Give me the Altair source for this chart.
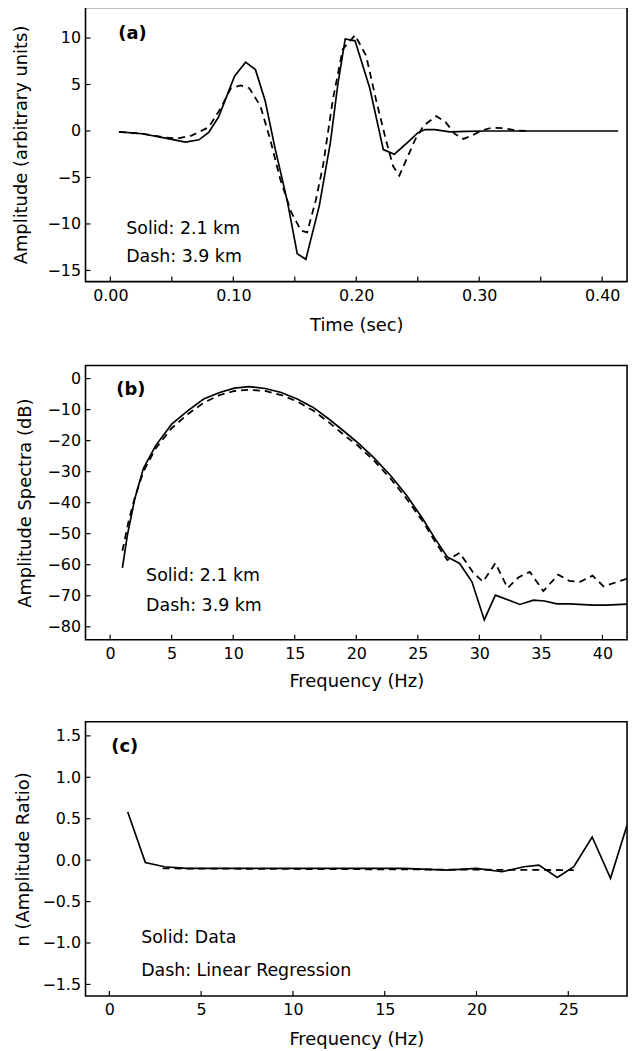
import altair as alt
import pandas as pd

FONT = "DejaVu Sans"

# ---------------- Panel (a): waveforms ----------------
a_solid_t = [0.007, 0.026, 0.048, 0.061, 0.072, 0.080, 0.088, 0.101, 0.110, 0.118,
             0.126, 0.134, 0.144, 0.152, 0.159, 0.170, 0.179, 0.185, 0.191, 0.199,
             0.211, 0.222, 0.231, 0.242, 0.250, 0.256, 0.264, 0.276, 0.290, 0.305,
             0.330, 0.360, 0.390, 0.413]
a_solid_amp = [-0.1, -0.3, -0.85, -1.2, -0.95, -0.15, 1.5, 5.9, 7.4, 6.6,
               3.2, -1.9, -7.6, -13.2, -13.8, -8.0, -1.2, 5.0, 9.9, 9.7,
               4.6, -2.0, -2.5, -1.2, -0.2, 0.15, 0.15, -0.1, -0.05, 0.0,
               0.0, 0.0, 0.0, 0.0]
a_dash_t = [0.007, 0.026, 0.045, 0.055, 0.066, 0.080, 0.090, 0.098, 0.106, 0.113,
            0.122, 0.130, 0.138, 0.147, 0.155, 0.160, 0.167, 0.173, 0.181, 0.189,
            0.199, 0.208, 0.216, 0.224, 0.230, 0.235, 0.241, 0.248, 0.255, 0.265,
            0.273, 0.280, 0.287, 0.294, 0.301, 0.310, 0.320, 0.330, 0.340]
a_dash_amp = [-0.1, -0.3, -0.7, -0.8, -0.5, 0.4, 2.5, 4.6, 4.9, 4.6,
              2.7, -0.9, -5.1, -8.7, -10.7, -10.9, -7.5, -3.7, 3.4, 8.8,
              10.3, 8.1, 3.4, -0.9, -3.8, -4.8, -3.0, -0.9, 0.6, 1.6,
              0.9, -0.3, -0.85, -0.5, 0.0, 0.35, 0.3, 0.05, 0.0]
a_x_labels = [0.0, 0.1, 0.2, 0.3, 0.4]
a_x_ticks = [0.0, 0.05, 0.1, 0.15, 0.2, 0.25, 0.3, 0.35, 0.4]
a_y_labels = [-15, -10, -5, 0, 5, 10]

# ---------------- Panel (b): amplitude spectra ----------------
b_solid_f = [1.0, 1.4, 2.0, 2.7, 3.7, 5.0, 6.3, 7.6, 8.9, 10.1, 11.3, 12.6, 13.9,
             15.2, 16.5, 17.8, 19.1, 20.1, 21.4, 22.8, 24.1, 25.4, 26.4, 27.4,
             28.4, 29.4, 30.4, 31.3, 33.3, 34.4, 35.3, 36.3, 37.3, 39.3, 40.3, 42.0]
b_solid_db = [-61, -50.5, -38.8, -29, -21.6, -14.7, -10.4, -6.6, -4.5, -3.1, -2.6,
              -3.2, -4.5, -6.6, -9.3, -13.1, -17.3, -20.6, -25.4, -31.3, -37.7,
              -45.2, -51.6, -57.5, -59.6, -65.5, -77.8, -69.8, -72.8, -71.4, -71.7,
              -72.6, -72.6, -73.0, -73.0, -72.7]
b_dash_f = [1.0, 1.5, 2.0, 2.7, 3.7, 5.0, 6.3, 7.6, 8.9, 10.1, 11.3, 12.6, 13.9,
            15.2, 16.5, 17.8, 19.1, 20.1, 21.4, 22.8, 24.1, 25.4, 26.4, 27.4,
            28.4, 29.5, 30.3, 31.3, 32.3, 33.2, 34.1, 35.2, 36.4, 37.3, 38.2,
            39.2, 40.1, 42.0]
b_dash_db = [-55.5, -46, -38.5, -30, -22.5, -16, -11.5, -7.8, -5.3, -4.0, -3.6,
             -4.0, -5.3, -7.4, -10.3, -14.2, -18.5, -21.5, -26.3, -32.3, -38.8,
             -46, -52.5, -58.5, -56.2, -62.5, -65.5, -59.5, -67.5, -64, -62.3,
             -68.5, -63.2, -65.2, -65.5, -63.5, -67, -64.5]
b_x_labels = [0, 5, 10, 15, 20, 25, 30, 35, 40]
b_y_labels = [-80, -70, -60, -50, -40, -30, -20, -10, 0]

# ---------------- Panel (c): amplitude ratio ----------------
c_solid_f = [1.0, 1.96, 3.0, 4.2, 7.3, 12.0, 16.0, 18.4, 20.0, 21.4, 22.6, 23.4,
             24.4, 25.3, 26.3, 27.3, 28.2]
c_solid_n = [0.58, -0.03, -0.08, -0.1, -0.1, -0.1, -0.1, -0.12, -0.1, -0.14,
             -0.08, -0.06, -0.21, -0.08, 0.28, -0.22, 0.42]
c_dash_f = [2.9, 25.3]
c_dash_n = [-0.1, -0.12]
c_x_labels = [0, 5, 10, 15, 20, 25]
c_y_labels = [-1.5, -1.0, -0.5, 0.0, 0.5, 1.0, 1.5]

W, H = 545, 276


def panel(sx, sy, dx, dy, xdom, ydom, xlabels, xticks, ylabels, xfmt, yfmt,
          xtitle, ytitle, title_x, title_y, letter, letter_pos, notes, note_pos):
    xs = alt.Scale(domain=xdom, nice=False, zero=False)
    ys = alt.Scale(domain=ydom, nice=False, zero=False)
    xax = alt.Axis(values=xlabels, format=xfmt, title=xtitle, ticks=False,
                   domain=False, grid=False, labelPadding=6, titleY=title_y,
                   titleBaseline="middle", labelFlush=False)
    yax = alt.Axis(values=ylabels, format=yfmt, title=ytitle, ticks=False,
                   domain=False, grid=False, labelPadding=5, titleX=title_x,
                   titleBaseline="middle")
    solid = alt.Chart(pd.DataFrame({"x": sx, "y": sy})).mark_line(
        color="black", strokeWidth=1.7, clip=True).encode(
        x=alt.X("x:Q", scale=xs, axis=xax), y=alt.Y("y:Q", scale=ys, axis=yax))
    dash = alt.Chart(pd.DataFrame({"x": dx, "y": dy})).mark_line(
        color="black", strokeWidth=1.8, strokeDash=[7, 5], clip=True).encode(
        x=alt.X("x:Q", scale=xs, axis=xax), y=alt.Y("y:Q", scale=ys, axis=yax))
    xt = alt.Chart(pd.DataFrame({"x": xticks})).mark_rule(
        color="black", strokeWidth=1.2).encode(
        x=alt.X("x:Q", scale=xs, axis=xax), y=alt.value(H), y2=alt.value(H - 5))
    yt = alt.Chart(pd.DataFrame({"y": ylabels})).mark_rule(
        color="black", strokeWidth=1.2).encode(
        y=alt.Y("y:Q", scale=ys, axis=yax), x=alt.value(0), x2=alt.value(5))
    layers = [solid, dash, xt, yt]
    lab = alt.Chart(pd.DataFrame({"t": [letter]})).mark_text(
        align="left", baseline="middle", font=FONT, fontSize=18,
        fontWeight="bold", color="black").encode(
        x=alt.value(letter_pos[0]), y=alt.value(letter_pos[1]), text="t:N")
    layers.append(lab)
    for txt, (px, py) in zip(notes, note_pos):
        layers.append(alt.Chart(pd.DataFrame({"t": [txt]})).mark_text(
            align="left", baseline="middle", font=FONT, fontSize=17.5,
            color="black").encode(x=alt.value(px), y=alt.value(py), text="t:N"))
    return alt.layer(*layers).properties(width=W, height=H)


pa = panel(a_solid_t, a_solid_amp, a_dash_t, a_dash_amp, [-0.0202, 0.4202],
           [-16.2, 13.3], a_x_labels, a_x_ticks, a_y_labels, ".2f", "d",
           "Time (sec)", "Amplitude (arbitrary units)", -64, 44,
           "(a)", (33, 27), ["Solid: 2.1 km", "Dash: 3.9 km"], [(41, 223), (41, 251)])
pb = panel(b_solid_f, b_solid_db, b_dash_f, b_dash_db, [-2.0, 42.0],
           [-84.2, 4.2], b_x_labels, b_x_labels, b_y_labels, "d", "d",
           "Frequency (Hz)", "Amplitude Spectra (dB)", -60, 42,
           "(b)", (31, 25), ["Solid: 2.1 km", "Dash: 3.9 km"], [(61, 212), (61, 242)])
pc = panel(c_solid_f, c_solid_n, c_dash_f, c_dash_n, [-1.3, 28.2],
           [-1.64, 1.67], c_x_labels, c_x_labels, c_y_labels, "d", ".1f",
           "Frequency (Hz)", "n (Amplitude Ratio)", -62, 44,
           "(c)", (26, 25), ["Solid: Data", "Dash: Linear Regression"], [(56, 218), (56, 251)])

chart = alt.vconcat(pa, pb, pc, spacing=29.5).properties(
    padding={"left": 4, "top": -5, "right": 5, "bottom": 0},
    background="white"
).configure_view(
    stroke="black", strokeWidth=1.6
).configure_axis(
    labelFont=FONT, labelFontSize=16, labelColor="black",
    titleFont=FONT, titleFontSize=18, titleFontWeight="normal", titleColor="black"
)

chart.save("out.html", embed_options={"renderer": "svg", "actions": False})
